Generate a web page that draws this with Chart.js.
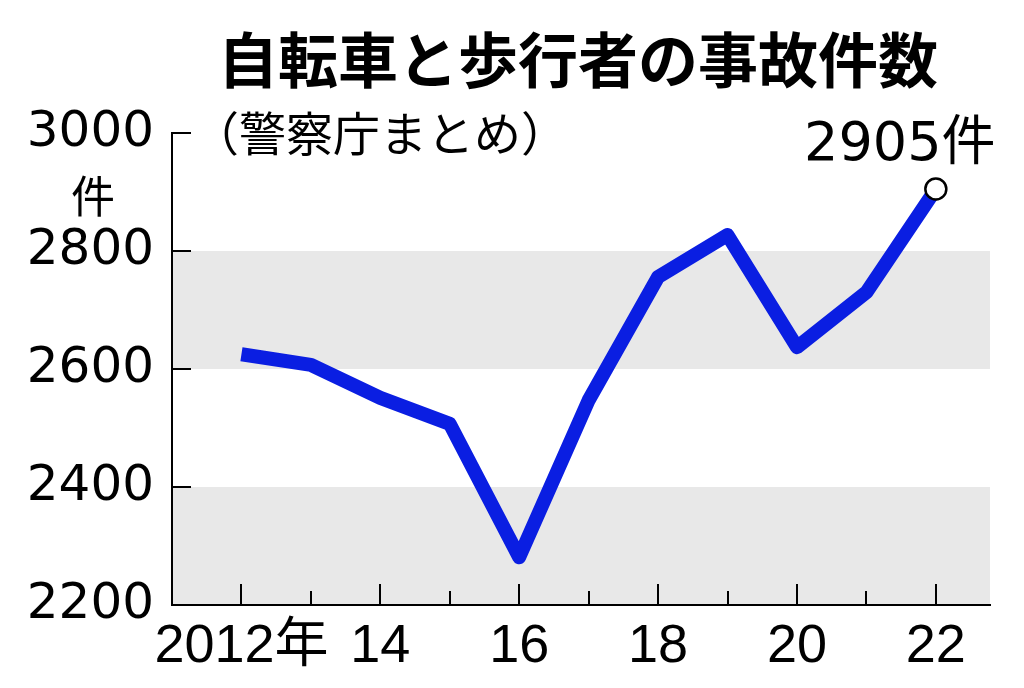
<!DOCTYPE html>
<html lang="ja">
<head>
<meta charset="utf-8">
<script src="https://cdn.jsdelivr.net/npm/chart.js@4"></script>
<style>
  body { margin: 0; background: #fff; }
  #wrap { position: relative; width: 1024px; height: 688px; }
  .txt { position: absolute; white-space: nowrap; color: #000; line-height: 1; font-family: "Noto Sans CJK JP", sans-serif; }
  #title { left: 218px; top: 27px; font-size: 60px; font-weight: 700; }
  #sub { left: 192px; top: 107px; font-size: 47px; font-weight: 400; }
  #unit { left: 71px; top: 172px; font-size: 44px; font-weight: 400; }
</style>
</head>
<body>
<div id="wrap">
  <canvas id="chart"></canvas>
  <div class="txt" id="title">自転車と歩行者の事故件数</div>
  <div class="txt" id="sub">（警察庁まとめ）</div>
  <div class="txt" id="unit">件</div>
</div>
<script>
// data
var years = [2012, 2013, 2014, 2015, 2016, 2017, 2018, 2019, 2020, 2021, 2022]
var accidents = [2625, 2607, 2551, 2507, 2281, 2547, 2756, 2827, 2637, 2730, 2905]
var yTicks = [2200, 2400, 2600, 2800, 3000]
var bands = [[2200, 2400], [2600, 2800]]

var LINE_BLUE = '#0a1ee2'
var BAND_GRAY = '#e8e8e8'

var bandPlugin = {
    id: 'bands',
    beforeDraw: function (chart) {
        var ctx = chart.ctx, area = chart.chartArea, y = chart.scales.y
        ctx.save()
        ctx.fillStyle = BAND_GRAY
        bands.forEach(b => {
            var top = y.getPixelForValue(b[1])
            var bottom = y.getPixelForValue(b[0])
            ctx.fillRect(area.left, top, area.right - area.left, bottom - top)
        })
        ctx.restore()
    }
}

// short ticks pointing into the plot
var innerTicks = {
    id: 'innerTicks',
    beforeDatasetsDraw: function (chart) {
        var ctx = chart.ctx, area = chart.chartArea
        var x = chart.scales.x, y = chart.scales.y
        ctx.save()
        ctx.strokeStyle = '#000'
        ctx.lineWidth = 2
        ctx.beginPath()
        y.ticks.forEach(t => {
            if (t.value === y.min) return
            var py = Math.round(y.getPixelForValue(t.value))
            ctx.moveTo(area.left, py)
            ctx.lineTo(area.left + 19, py)
        })
        x.ticks.forEach(t => {
            var px = Math.round(x.getPixelForValue(t.value))
            var len = t.value % 2 === 0 ? 21 : 14
            ctx.moveTo(px, area.bottom)
            ctx.lineTo(px, area.bottom - len)
        })
        ctx.stroke()
        ctx.restore()
    }
}

var lastLabel = {
    id: 'lastLabel',
    afterDatasetsDraw: function (chart) {
        var ctx = chart.ctx
        var meta = chart.getDatasetMeta(0)
        var i = accidents.length - 1
        var pt = meta.data[i]
        ctx.save()
        ctx.fillStyle = '#000'
        ctx.font = '54px "DejaVu Sans", "Noto Sans CJK JP"'
        ctx.textAlign = 'center'
        ctx.textBaseline = 'middle'
        ctx.fillText(accidents[i] + '件', pt.x - 36, pt.y - 43)
        ctx.restore()
    }
}

new Chart(document.getElementById('chart'), {
    type: 'line',
    data: {
        datasets: [{
            data: years.map((yr, i) => ({ x: yr, y: accidents[i] })),
            borderColor: LINE_BLUE,
            borderWidth: 14,
            borderJoinStyle: 'round',
            tension: 0,
            fill: false,
            pointRadius: accidents.map((v, i) => i === accidents.length - 1 ? 10.5 : 0),
            pointBackgroundColor: '#fff',
            pointBorderColor: '#000',
            pointBorderWidth: 2.5
        }]
    },
    options: {
        responsive: true,
        maintainAspectRatio: false,
        animation: false,
        layout: { padding: { top: 133, right: 34, left: 0, bottom: 0 } },
        plugins: { legend: { display: false }, tooltip: { enabled: false } },
        scales: {
            x: {
                type: 'linear',
                min: 2011,
                max: 2022.78,
                afterBuildTicks: function (s) { s.ticks = years.map(v => ({ value: v })) },
                afterFit: function (s) { s.height = 83 },
                grid: { display: false },
                border: { display: true, color: '#000', width: 2 },
                ticks: {
                    autoSkip: false,
                    maxRotation: 0,
                    padding: 2,
                    color: '#000',
                    font: { family: '"Liberation Sans", "Noto Sans CJK JP"', size: 54 },
                    callback: function (v) {
                        if (v === years[0]) return v + '年'
                        return v % 2 === 0 ? String(v).slice(2) : ''
                    }
                }
            },
            y: {
                min: 2200,
                max: 3000,
                afterBuildTicks: function (s) { s.ticks = yTicks.map(v => ({ value: v })) },
                afterFit: function (s) { s.width = 172 },
                grid: { display: false },
                border: { display: true, color: '#000', width: 2 },
                ticks: {
                    padding: 10,
                    color: '#000',
                    font: { family: '"DejaVu Sans"', size: 50 },
                    callback: function (v) { return String(v) }
                }
            }
        }
    },
    plugins: [bandPlugin, innerTicks, lastLabel]
})
</script>
</body>
</html>
